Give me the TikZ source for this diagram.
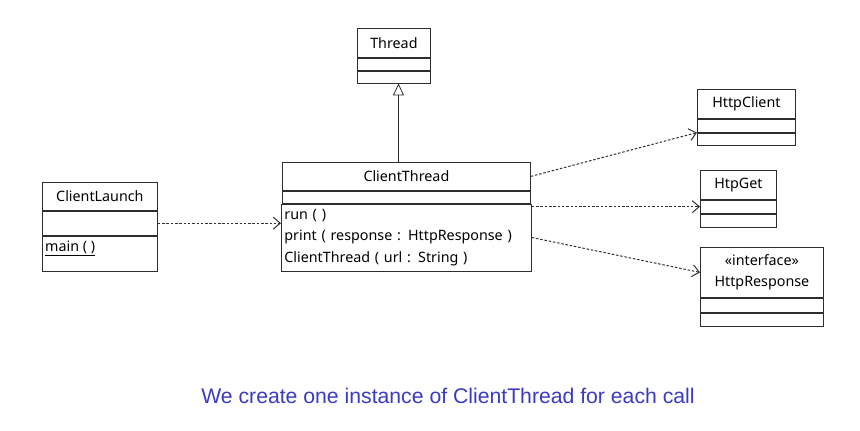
\documentclass[tikz,border=0pt]{standalone}
\usepackage{fontspec}
\setmainfont{Noto Sans}
\newfontfamily\captionfont{Liberation Sans}
\usepackage{tikz}
\usetikzlibrary{arrows.meta,positioning,shapes}
\definecolor{umlline}{RGB}{45,45,45}
\definecolor{depline}{RGB}{50,50,50}
\definecolor{noteblue}{RGB}{58,58,196}
\newcommand{\umlfont}{\fontsize{14.3}{21.5}\selectfont}
\tikzstyle{compart}=[draw=umlline, rectangle, inner sep=0pt, minimum height=12pt, font=\umlfont, line width=0.8pt]
\tikzstyle{depend}=[draw=depline, line width=1pt, dash pattern=on 2.5pt off 1.8pt, -{Straight Barb[length=7pt,width=12pt]}]
\tikzstyle{inherit}=[draw=umlline, line width=0.8pt, -{Triangle[open,length=12pt,width=11pt]}]

\begin{document}
\begin{tikzpicture}[x=1pt,y=-1pt]
\useasboundingbox (0,0) rectangle (860,431);

% Thread
\node[compart, minimum width=73, minimum height=29, anchor=north west] (thread) at (357,28) {Thread};
\node[compart, minimum width=73, below=0pt of thread] (thread-attr) {};
\node[compart, minimum width=73, below=0pt of thread-attr] (thread-ops) {};

% ClientThread
\node[compart, minimum width=248, minimum height=28, anchor=north west] (clientthread) at (282,162) {ClientThread};
\node[compart, minimum width=248, below=0pt of clientthread] (clientthread-attr) {};
\node[compart, minimum width=248, minimum height=67, below=0pt of clientthread-attr,
      text width=244, inner xsep=3pt, align=left] (clientthread-ops)
      {run ( )\\print ( response : HttpResponse )\\ClientThread ( url : String )};

% ClientLaunch
\node[compart, minimum width=115, minimum height=28, anchor=north west] (launch) at (42,182) {ClientLaunch};
\node[compart, minimum width=115, minimum height=24, below=0pt of launch] (launch-attr) {};
\node[compart, minimum width=115, minimum height=35, below=0pt of launch-attr] (launch-ops) {};
\node[font=\umlfont, inner xsep=3pt, inner ysep=5pt, anchor=north west] (launch-main) at (launch-ops.north west) {\underline{main ( )}};

% HttpClient
\node[compart, minimum width=98, minimum height=29, anchor=north west] (httpclient) at (697,89) {HttpClient};
\node[compart, minimum width=98, minimum height=13, below=0pt of httpclient] (httpclient-attr) {};
\node[compart, minimum width=98, below=0pt of httpclient-attr] (httpclient-ops) {};

% HtpGet
\node[compart, minimum width=76, minimum height=29, anchor=north west] (htpget) at (700,170) {HtpGet};
\node[compart, minimum width=76, minimum height=13, below=0pt of htpget] (htpget-attr) {};
\node[compart, minimum width=76, minimum height=13, below=0pt of htpget-attr] (htpget-ops) {};

% HttpResponse
\node[compart, minimum width=123, minimum height=50, anchor=north west, align=center] (httpresponse) at (700,247) {«interface»\\HttpResponse};
\node[compart, minimum width=123, minimum height=14, below=0pt of httpresponse] (httpresponse-attr) {};
\node[compart, minimum width=123, minimum height=13, below=0pt of httpresponse-attr] (httpresponse-ops) {};

% relations
\coordinate (gen) at (398.5,0);
\draw[inherit] (clientthread.north -| gen) -- (thread-ops.south -| gen);
\draw[depend] (launch-attr.east) -- (launch-attr.east -| clientthread-ops.west);
\draw[depend] (clientthread.east) -- (httpclient-ops.north west);
\draw[depend] (clientthread-ops.east |- htpget-attr.west) -- (htpget-attr.west);
\draw[depend] (clientthread-ops.east) -- (httpresponse.west);

% note
\node[font=\captionfont\fontsize{21.2}{24}\selectfont, text=noteblue] (note) at (448,396) {We create one instance of ClientThread for each call};

\end{tikzpicture}
\end{document}
